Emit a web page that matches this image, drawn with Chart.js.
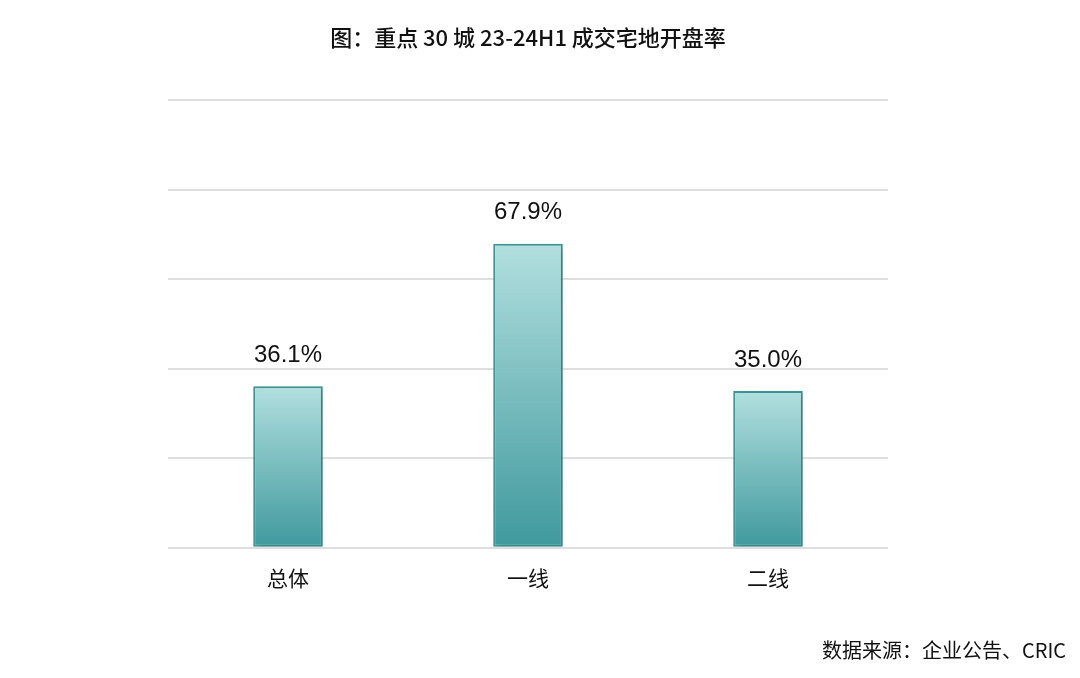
<!DOCTYPE html>
<html>
<head>
<meta charset="utf-8">
<script src="https://cdn.jsdelivr.net/npm/chart.js@4.4.1/dist/chart.umd.min.js"></script>
<style>
  html, body { margin: 0; padding: 0; background: #ffffff; }
  #wrap { width: 1080px; height: 678px; position: relative; }
</style>
</head>
<body>
<div id="wrap"><canvas id="landChart"></canvas></div>
<script>
// chart data
const categories = ["总体", "一线", "二线"];
const openRates = [36.1, 67.9, 35.0];
const yTicks = [0, 20, 40, 60, 80, 100];

const titleText = "图：重点 30 城 23-24H1 成交宅地开盘率";
const sourceText = "数据来源：企业公告、CRIC";

// bar gradient, light at top, dark at bottom
function bar_gradient(context) {
    const chart = context.chart;
    if (!chart.chartArea) return "#7bbfbf";
    const yScale = chart.scales.y;
    const top = yScale.getPixelForValue(openRates[context.dataIndex]);
    const bottom = yScale.getPixelForValue(0);
    const g = chart.ctx.createLinearGradient(0, top, 0, bottom);
    g.addColorStop(0, "#b2dfdf");
    g.addColorStop(1, "#3f999d");
    return g;
}

// title, source and value labels
const textPlugin = {
    id: "textPlugin",
    beforeDatasetsDraw(chart) {
        const ctx = chart.ctx;
        ctx.save();
        ctx.shadowColor = "rgba(0,0,0,0.18)";
        ctx.shadowBlur = 6;
        ctx.shadowOffsetX = 3;
        ctx.shadowOffsetY = 1;
    },
    afterDatasetsDraw(chart) {
        const ctx = chart.ctx;
        ctx.restore();
        ctx.save();
        ctx.fillStyle = "#111111";
        ctx.font = "24px 'Liberation Sans', Arial, sans-serif";
        ctx.textAlign = "center";
        ctx.textBaseline = "middle";
        const meta = chart.getDatasetMeta(0);
        meta.data.forEach((bar, i) => {
            ctx.fillText(openRates[i].toFixed(1) + "%", bar.x, bar.y - 31);
        });
        ctx.restore();
    },
    afterDraw(chart) {
        const ctx = chart.ctx;
        ctx.save();
        ctx.fillStyle = "#111111";
        ctx.textBaseline = "middle";
        ctx.font = "500 22px 'Noto Sans CJK SC', sans-serif";
        ctx.textAlign = "center";
        ctx.fillText(titleText, 528, 38);
        ctx.font = "20px 'Noto Sans CJK SC', sans-serif";
        ctx.textAlign = "right";
        ctx.fillText(sourceText, 1066, 650);
        ctx.restore();
    }
};

new Chart(document.getElementById("landChart"), {
    type: "bar",
    data: {
        labels: categories,
        datasets: [{
            data: openRates,
            backgroundColor: bar_gradient,
            borderColor: "#3e9a9b",
            borderWidth: 2,
            borderSkipped: false,
            barPercentage: 0.29,
            categoryPercentage: 1.0
        }]
    },
    options: {
        responsive: true,
        maintainAspectRatio: false,
        animation: false,
        layout: {
            padding: { top: 100, left: 168, right: 192, bottom: 77 }
        },
        plugins: {
            legend: { display: false },
            title: { display: false },
            tooltip: { enabled: false }
        },
        scales: {
            x: {
                grid: { display: false },
                border: { display: false },
                ticks: {
                    color: "#111111",
                    padding: 10,
                    font: { size: 21, family: "'Noto Sans CJK SC', sans-serif" }
                }
            },
            y: {
                min: yTicks[0],
                max: yTicks[yTicks.length - 1],
                afterBuildTicks(axis) {
                    axis.ticks = yTicks.map(v => ({ value: v }));
                },
                ticks: { display: false },
                border: { display: false },
                grid: { color: "#dedede", lineWidth: 2, drawTicks: false }
            }
        }
    },
    plugins: [textPlugin]
});
</script>
</body>
</html>
